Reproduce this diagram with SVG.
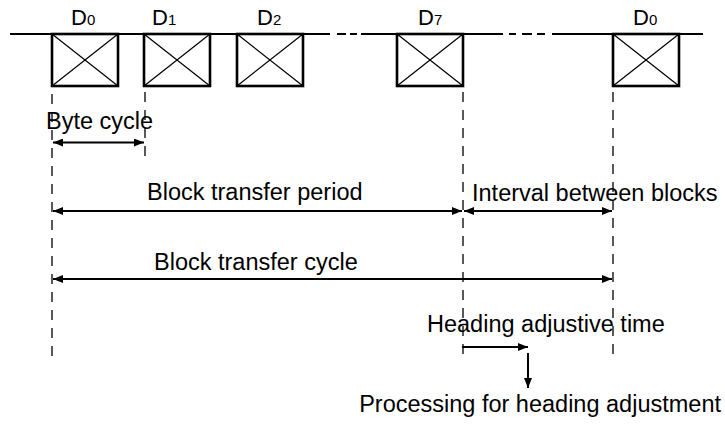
<svg xmlns="http://www.w3.org/2000/svg" width="725" height="425" viewBox="0 0 725 425">
<defs>
<style>
text{font-family:"Liberation Sans",Arial,sans-serif;font-size:23.5px;fill:#000}
.lbl{font-size:22px}
.sub{font-size:15px}
.box{fill:#fff;stroke:#000;stroke-width:2.6}
.diag{stroke:#000;stroke-width:1.2}
.bus{stroke:#000;stroke-width:2;fill:none}
.guide{stroke:#000;stroke-width:1.3;stroke-dasharray:10 8;fill:none}
.arr{stroke:#000;stroke-width:2;fill:none}
</style>
<marker id="ah" viewBox="0 0 10 8" refX="10" refY="4" markerWidth="10" markerHeight="8" markerUnits="userSpaceOnUse" orient="auto-start-reverse">
<path d="M0,0 L10,4 L0,8 Z" fill="#000"/>
</marker>
</defs>
<g id="bus">
<path class="bus" d="M10,34 H330 M337,34 H346 M350,34 H357 M361,34 H503 M509,34 H516 M522,34 H532 M537,34 H545 M552,34 H703"/>
</g>
<g id="d0"><rect class="box" x="52" y="34" width="66" height="52"/><path class="diag" d="M52,34 L118,86 M118,34 L52,86"/><text class="lbl" x="71" y="25">D<tspan class="sub">0</tspan></text></g>
<g id="d1"><rect class="box" x="144" y="34" width="66" height="52"/><path class="diag" d="M144,34 L210,86 M210,34 L144,86"/><text class="lbl" x="152" y="25">D<tspan class="sub">1</tspan></text></g>
<g id="d2"><rect class="box" x="237" y="34" width="66" height="52"/><path class="diag" d="M237,34 L303,86 M303,34 L237,86"/><text class="lbl" x="257" y="25">D<tspan class="sub">2</tspan></text></g>
<g id="d7"><rect class="box" x="397" y="34" width="66" height="52"/><path class="diag" d="M397,34 L463,86 M463,34 L397,86"/><text class="lbl" x="418" y="25">D<tspan class="sub">7</tspan></text></g>
<g id="d0b"><rect class="box" x="613" y="34" width="66" height="52"/><path class="diag" d="M613,34 L679,86 M679,34 L613,86"/><text class="lbl" x="633" y="25">D<tspan class="sub">0</tspan></text></g>
<g id="connectors">
<path class="guide" d="M52,94 V360 M145,92 V160 M463,92 V360 M613,92 V360"/>
<line class="arr" x1="53" y1="142.5" x2="144" y2="142.5" marker-start="url(#ah)" marker-end="url(#ah)"/>
<line class="arr" x1="53" y1="211" x2="462" y2="211" marker-start="url(#ah)" marker-end="url(#ah)"/>
<line class="arr" x1="464" y1="211" x2="612" y2="211" marker-start="url(#ah)" marker-end="url(#ah)"/>
<line class="arr" x1="53" y1="279" x2="612" y2="279" marker-start="url(#ah)" marker-end="url(#ah)"/>
<line class="arr" x1="462" y1="347" x2="528" y2="347" marker-end="url(#ah)"/>
<line class="arr" x1="528" y1="353" x2="528" y2="388" marker-end="url(#ah)"/>
</g>
<g id="labels">
<text x="46" y="129">Byte cycle</text>
<text x="147" y="200">Block transfer period</text>
<text x="472" y="201">Interval between blocks</text>
<text x="154" y="270">Block transfer cycle</text>
<text x="427" y="332">Heading adjustive time</text>
<text x="721" y="412" text-anchor="end">Processing for heading adjustment</text>
</g>
</svg>
